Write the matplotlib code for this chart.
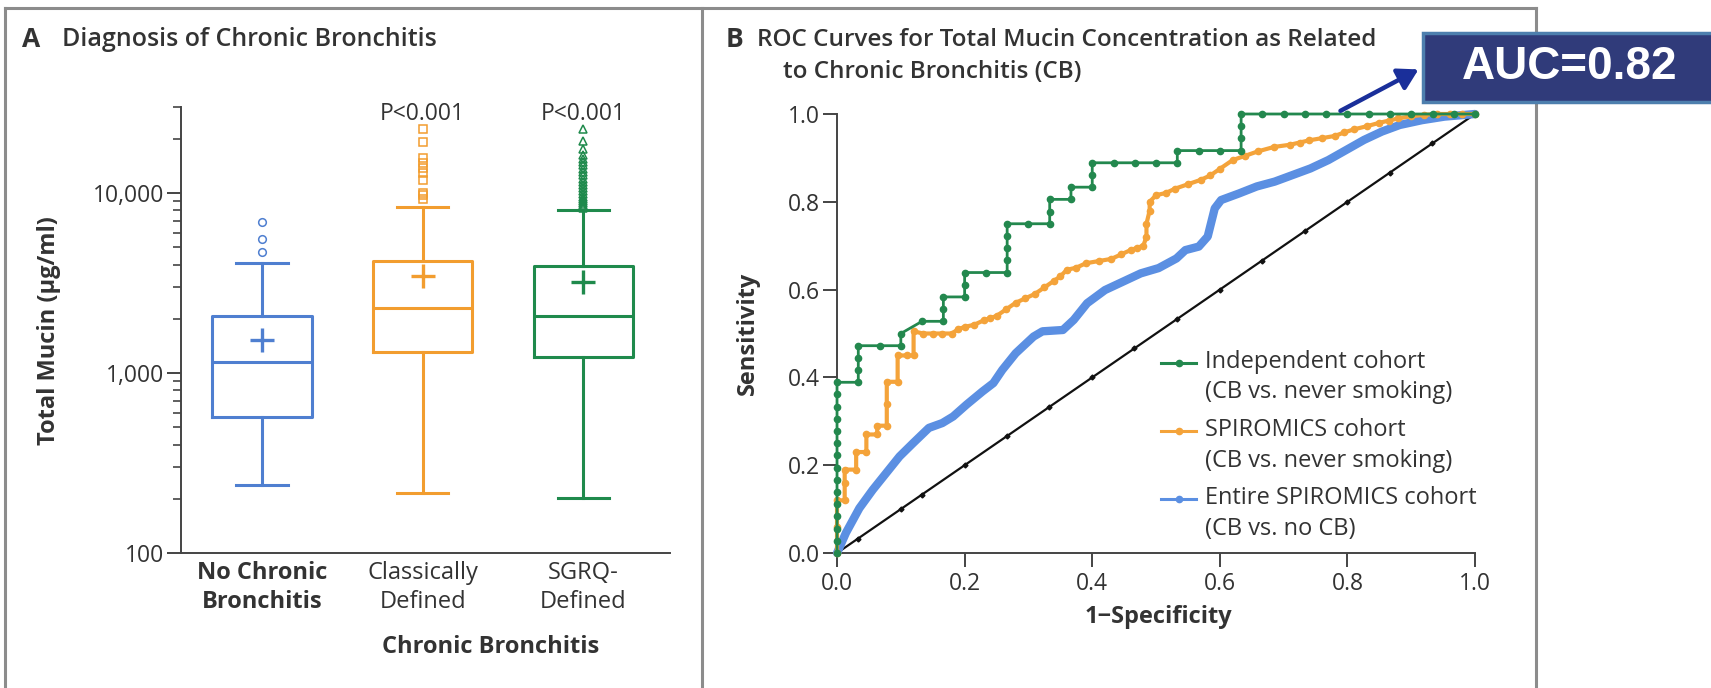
import matplotlib
matplotlib.use("Agg")
import matplotlib.pyplot as plt
from matplotlib.lines import Line2D
from matplotlib.patches import Rectangle, FancyArrowPatch
from matplotlib.ticker import FixedLocator, NullFormatter

plt.rcParams['font.family'] = ['Open Sans', 'DejaVu Sans']

# ---- panel A data (total mucin, ug/ml) ----
groups = ["No Chronic\nBronchitis", "Classically\nDefined", "SGRQ-\nDefined"]
box_colors = ["#4f7fd0", "#f29d2f", "#1f8a4c"]
flier_markers = ["o", "s", "^"]
whis_lo = [239, 215, 202]
q1 = [570, 1308, 1227]
median = [1150, 2298, 2073]
q3 = [2073, 4190, 3930]
whis_hi = [4085, 8360, 8050]
means = [1525, 3457, 3205]
fliers = [
    [4700, 5550, 6900],
    [9300, 9700, 10000, 11800, 12900, 13800, 14700, 15600, 19200, 22700],
    [8200, 8400, 8600, 8800, 9000, 9200, 9500, 9800, 10200, 10600, 11000, 11500,
     12000, 12500, 13000, 13600, 14200, 14800, 15500, 16300, 17500, 19500, 22700],
]
p_labels = ["", "P<0.001", "P<0.001"]

# ---- panel B data (ROC) ----
indep_fp = [0, 0, 0, 0, 0, 0, 0, 0, 0, 0, 0, 0, 0, 0, 0, 1, 1, 1, 1, 2, 3, 3, 4, 5, 5, 5,
            6, 6, 6, 7, 8, 8, 8, 8, 8, 9, 10, 10, 10, 11, 11, 12, 12, 12, 13, 14, 15, 16,
            16, 17, 18, 19, 19, 19, 19, 20, 21, 22, 23, 24, 25, 26, 27, 28, 29, 30]
indep_tp = [0, 1, 2, 3, 4, 5, 6, 7, 8, 9, 10, 11, 12, 13, 14, 14, 15, 16, 17, 17, 17, 18, 19, 19, 20, 21,
            21, 22, 23, 23, 23, 24, 25, 26, 27, 27, 27, 28, 29, 29, 30, 30, 31, 32, 32, 32, 32, 32,
            33, 33, 33, 33, 34, 35, 36, 36, 36, 36, 36, 36, 36, 36, 36, 36, 36, 36]
indep_neg = 30
indep_pos = 36

spiro_fpr = [0, 0, 0, 0.012, 0.012, 0.012, 0.03, 0.03, 0.046, 0.046, 0.063, 0.063, 0.078,
             0.078, 0.078, 0.095, 0.095, 0.11, 0.12, 0.12, 0.135, 0.15, 0.165, 0.18, 0.19,
             0.20, 0.215, 0.23, 0.24, 0.25, 0.265, 0.28, 0.295, 0.31, 0.325, 0.34, 0.35,
             0.36, 0.375, 0.39, 0.41, 0.43, 0.445, 0.46, 0.47, 0.48, 0.485, 0.485, 0.49,
             0.49, 0.50, 0.515, 0.53, 0.55, 0.57, 0.585, 0.60, 0.62, 0.64, 0.66, 0.685,
             0.71, 0.725, 0.74, 0.76, 0.78, 0.795, 0.81, 0.83, 0.85, 0.865, 0.88, 0.90,
             0.92, 0.94, 0.96, 0.98, 1.0]
spiro_tpr = [0, 0.06, 0.12, 0.12, 0.16, 0.19, 0.19, 0.23, 0.23, 0.27, 0.27, 0.29, 0.29,
             0.34, 0.39, 0.39, 0.45, 0.45, 0.45, 0.505, 0.50, 0.50, 0.50, 0.50, 0.51,
             0.515, 0.52, 0.53, 0.535, 0.54, 0.555, 0.57, 0.58, 0.59, 0.605, 0.62, 0.63,
             0.645, 0.65, 0.66, 0.665, 0.67, 0.68, 0.69, 0.695, 0.70, 0.72, 0.75, 0.78,
             0.80, 0.815, 0.82, 0.83, 0.84, 0.85, 0.86, 0.875, 0.895, 0.905, 0.915, 0.925,
             0.93, 0.935, 0.94, 0.945, 0.95, 0.958, 0.965, 0.972, 0.98, 0.985, 0.99, 0.995,
             0.998, 1.0, 1.0, 1.0, 1.0]

entire_fpr = [0, 0.014, 0.035, 0.056, 0.077, 0.098, 0.119, 0.144, 0.165, 0.182, 0.203,
              0.228, 0.245, 0.259, 0.280, 0.308, 0.322, 0.354, 0.371, 0.392, 0.420,
              0.448, 0.476, 0.504, 0.532, 0.546, 0.567, 0.581, 0.592, 0.602, 0.630,
              0.658, 0.686, 0.714, 0.742, 0.770, 0.798, 0.826, 0.854, 0.882, 0.917,
              0.952, 1.0]
entire_tpr = [0, 0.046, 0.102, 0.144, 0.182, 0.220, 0.250, 0.285, 0.296, 0.311, 0.338,
              0.368, 0.387, 0.417, 0.455, 0.493, 0.505, 0.508, 0.531, 0.569, 0.599,
              0.618, 0.637, 0.649, 0.671, 0.690, 0.698, 0.721, 0.785, 0.804, 0.819,
              0.835, 0.846, 0.861, 0.876, 0.895, 0.918, 0.941, 0.960, 0.975, 0.986,
              0.994, 1.0]

chance = [0, 0.033, 0.1, 0.133, 0.2, 0.266, 0.333, 0.4, 0.466, 0.533, 0.6, 0.666,
          0.733, 0.8, 0.866, 0.933, 1.0]

roc_names = ["Independent cohort\n(CB vs. never smoking)",
             "SPIROMICS cohort\n(CB vs. never smoking)",
             "Entire SPIROMICS cohort\n(CB vs. no CB)"]
roc_colors = ["#23884e", "#f4a33a", "#5b8fe2"]

txt = "#333333"
fig = plt.figure(figsize=(17.11, 6.88), dpi=100)

# ================= panel A =================
ax = fig.add_axes([0.1058, 0.1962, 0.2858, 0.6483])
stats = []
for i in range(3):
    stats.append(dict(whislo=whis_lo[i], q1=q1[i], med=median[i], q3=q3[i],
                      whishi=whis_hi[i], mean=means[i], fliers=fliers[i]))
for i in range(3):
    c = box_colors[i]
    ax.bxp([stats[i]], positions=[i + 1], widths=0.62, capwidths=0.32,
           showmeans=True, showfliers=True,
           boxprops=dict(color=c, lw=2.2), whiskerprops=dict(color=c, lw=2.2),
           capprops=dict(color=c, lw=2.2), medianprops=dict(color=c, lw=2.2),
           meanprops=dict(marker="+", markersize=17, markeredgewidth=2.4,
                          markeredgecolor=c, color=c),
           flierprops=dict(marker=flier_markers[i], markerfacecolor="none",
                           markeredgecolor=c, markersize=5.5, markeredgewidth=1.1))
ax.set_yscale("log")
ax.set_ylim(100, 30000)
ax.set_xlim(0.495, 3.54)
ax.yaxis.set_major_locator(FixedLocator([100, 1000, 10000]))
ax.set_yticklabels(["100", "1,000", "10,000"])
ax.yaxis.set_minor_locator(FixedLocator([200, 300, 400, 500, 600, 700, 800, 900,
                                         2000, 3000, 4000, 5000, 6000, 7000, 8000, 9000,
                                         20000, 30000]))
ax.yaxis.set_minor_formatter(NullFormatter())
ax.tick_params(axis="y", which="major", length=10, width=1.4, color="#444444",
               labelsize=16.5, labelcolor=txt, pad=2)
ax.tick_params(axis="y", which="minor", length=6, width=1.2, color="#444444")
ax.set_xticks([1, 2, 3])
ax.set_xticklabels(groups, fontsize=17, color=txt, linespacing=1.25)
ax.get_xticklabels()[0].set_fontweight("bold")
ax.tick_params(axis="x", length=0, pad=6)
for s in ["top", "right"]:
    ax.spines[s].set_visible(False)
for s in ["left", "bottom"]:
    ax.spines[s].set_color("#444444")
    ax.spines[s].set_linewidth(1.4)
for i in range(3):
    if p_labels[i]:
        ax.text(i + 1, 0.985, p_labels[i], transform=ax.get_xaxis_transform(),
                ha="center", va="center", fontsize=16.5, color=txt)

fig.text(0.0286, 0.519, "Total Mucin (μg/ml)", rotation=90, ha="center", va="center",
         fontsize=17, fontweight="bold", color=txt)
fig.text(0.287, 0.0596, "Chronic Bronchitis", ha="center", va="center",
         fontsize=17, fontweight="bold", color=txt)
fig.text(0.0129, 0.942, "A", ha="left", va="center", fontsize=19, fontweight="bold", color=txt)
fig.text(0.0362, 0.942, "Diagnosis of Chronic Bronchitis", ha="left", va="center",
         fontsize=18, fontweight="semibold", color=txt)

# ================= panel B =================
bx = fig.add_axes([0.4892, 0.1962, 0.3729, 0.6381])
bx.plot(chance, chance, color="#111111", lw=1.6, marker="D", markersize=2.5, clip_on=False, zorder=2)
bx.plot(entire_fpr, entire_tpr, color=roc_colors[2], lw=6, solid_joinstyle="round",
        solid_capstyle="round", clip_on=False, zorder=3)
bx.plot(spiro_fpr, spiro_tpr, color=roc_colors[1], lw=3, marker="o", markersize=4.5,
        clip_on=False, zorder=4)
indep_fpr = [v / indep_neg for v in indep_fp]
indep_tpr = [v / indep_pos for v in indep_tp]
bx.plot(indep_fpr, indep_tpr, color=roc_colors[0], lw=2, marker="o", markersize=4.5,
        clip_on=False, zorder=5)
bx.set_xlim(0, 1)
bx.set_ylim(0, 1)
ticks = [0.0, 0.2, 0.4, 0.6, 0.8, 1.0]
bx.set_xticks(ticks)
bx.set_yticks(ticks)
bx.set_xticklabels([f"{t:.1f}" for t in ticks])
bx.set_yticklabels([f"{t:.1f}" for t in ticks])
bx.tick_params(length=10, width=1.4, color="#444444", labelsize=16.5, labelcolor=txt)
bx.tick_params(axis="x", pad=4)
bx.tick_params(axis="y", pad=2)
for s in ["top", "right"]:
    bx.spines[s].set_visible(False)
for s in ["left", "bottom"]:
    bx.spines[s].set_color("#444444")
    bx.spines[s].set_linewidth(1.4)

# legend
leg_y = [0.432, 0.277, 0.122]
for i in range(3):
    bx.add_line(Line2D([0.508, 0.5355, 0.563], [leg_y[i]] * 3, transform=bx.transAxes,
                       color=roc_colors[i], lw=2.2, marker="o", markersize=4.5,
                       markevery=[1]))
    bx.text(0.576, leg_y[i] + 0.03, roc_names[i], transform=bx.transAxes, ha="left",
            va="top", fontsize=17, color=txt, linespacing=1.35)

fig.text(0.437, 0.516, "Sensitivity", rotation=90, ha="center", va="center",
         fontsize=17, fontweight="bold", color=txt)
fig.text(0.677, 0.103, "1\u2212Specificity", ha="center", va="center",
         fontsize=17, fontweight="bold", color=txt)
fig.text(0.4243, 0.942, "B", ha="left", va="center", fontsize=19, fontweight="bold", color=txt)
fig.text(0.4424, 0.942, "ROC Curves for Total Mucin Concentration as Related",
         ha="left", va="center", fontsize=17.5, fontweight="semibold", color=txt)
fig.text(0.4576, 0.895, "to Chronic Bronchitis (CB)", ha="left", va="center",
         fontsize=17.5, fontweight="semibold", color=txt)

# panel frames
frame = dict(color="#8c8c8c", lw=2.2, transform=fig.transFigure)
fig.add_artist(Line2D([0.0029, 0.8977], [0.9884, 0.9884], **frame))
fig.add_artist(Line2D([0.0029, 0.0029], [0, 0.9884], **frame))
fig.add_artist(Line2D([0.4103, 0.4103], [0, 0.9884], **frame))
fig.add_artist(Line2D([0.8977, 0.8977], [0, 0.9884], **frame))

# AUC callout
fig.add_artist(Rectangle((0.8317, 0.8517), 0.175, 0.1003, transform=fig.transFigure,
                         facecolor="#303b7a", edgecolor="#4d7fae", lw=2.5, zorder=10))
fig.text(0.9176, 0.9019, "AUC=0.82", ha="center", va="center", fontsize=33,
         fontweight="bold", color="white", family="Liberation Sans", zorder=11)
fig.add_artist(FancyArrowPatch((0.782, 0.837), (0.8305, 0.901), transform=fig.transFigure,
                               arrowstyle="-|>,head_length=12,head_width=7",
                               color="#1a2f9a", lw=3.2, zorder=9))

fig.savefig("out.png", dpi=100)
